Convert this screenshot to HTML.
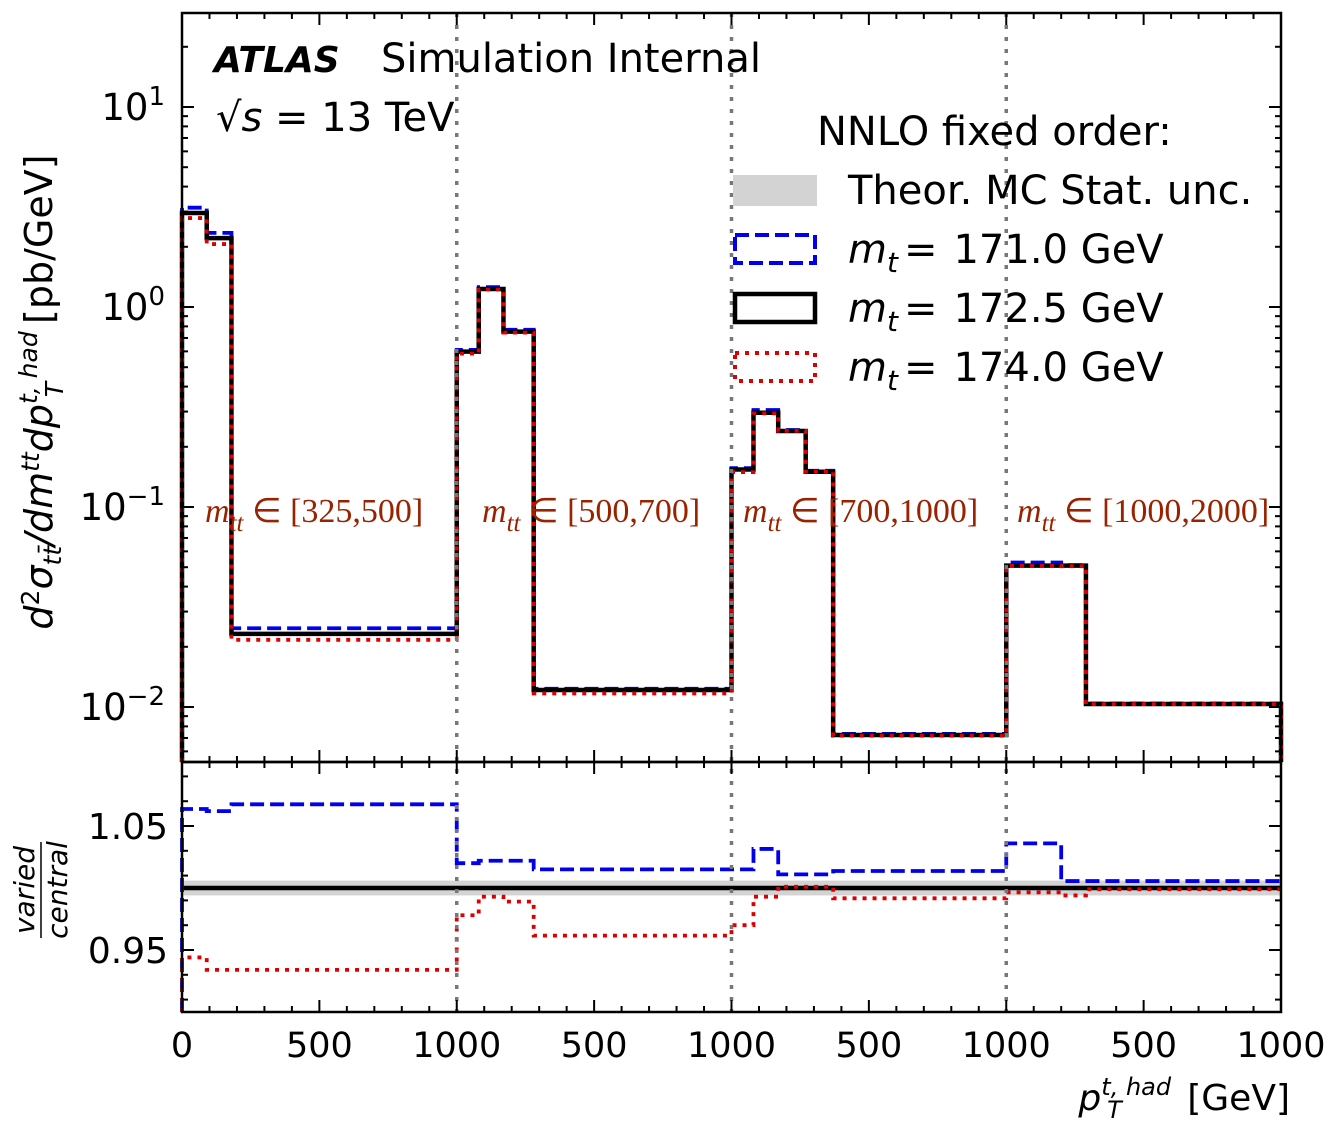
<!DOCTYPE html>
<html><head><meta charset="utf-8">
<style>
html,body{margin:0;padding:0;background:#fff;}
svg{display:block;font-family:"DejaVu Sans","Liberation Sans",sans-serif;}
</style></head>
<body>
<svg id="chart" width="1332" height="1134" viewBox="0 0 1332 1134" xmlns="http://www.w3.org/2000/svg">
<rect width="1332" height="1134" fill="#fff"/>
<g id="ratioBand"></g>
<g id="main"></g>
<g id="ratio"></g>
<g id="axes"></g>

<text x="214" y="72" font-size="36" font-weight="bold" font-style="italic">ATLAS</text>
<text x="381" y="72" font-size="40">Simulation Internal</text>
<text x="216" y="131" font-size="40"><tspan>√</tspan><tspan font-style="italic">s</tspan><tspan> = 13 TeV</tspan></text>

<g>
<text x="817" y="145" font-size="40">NNLO fixed order:</text>
<rect x="733" y="175" width="84" height="31" fill="#d3d3d3"/>
<text x="848" y="204" font-size="40">Theor. MC Stat. unc.</text>
<rect x="735" y="235" width="80" height="28" fill="none" stroke="#0000ee" stroke-width="4" stroke-dasharray="14,6"/>
<text x="848" y="263" font-size="40"><tspan font-style="italic">m</tspan><tspan font-style="italic" font-size="28" dy="9">t</tspan><tspan dy="-9" dx="6">=</tspan><tspan dx="16">171.0 GeV</tspan></text>
<rect x="735" y="294" width="80" height="28" fill="none" stroke="#000" stroke-width="4.5"/>
<text x="848" y="322" font-size="40"><tspan font-style="italic">m</tspan><tspan font-style="italic" font-size="28" dy="9">t</tspan><tspan dy="-9" dx="6">=</tspan><tspan dx="16">172.5 GeV</tspan></text>
<rect x="735" y="353" width="80" height="28" fill="none" stroke="#dd0000" stroke-width="4" stroke-dasharray="4,6"/>
<text x="848" y="381" font-size="40"><tspan font-style="italic">m</tspan><tspan font-style="italic" font-size="28" dy="9">t</tspan><tspan dy="-9" dx="6">=</tspan><tspan dx="16">174.0 GeV</tspan></text>
</g>

<g font-family="'Liberation Serif',serif" fill="#992200" font-size="34">
<text x="205" y="522"><tspan font-style="italic">m</tspan><tspan font-style="italic" font-size="25" dy="9">tt</tspan><tspan dy="-9"> ∈ [325,500]</tspan></text>
<text x="482" y="522"><tspan font-style="italic">m</tspan><tspan font-style="italic" font-size="25" dy="9">tt</tspan><tspan dy="-9"> ∈ [500,700]</tspan></text>
<text x="743" y="522"><tspan font-style="italic">m</tspan><tspan font-style="italic" font-size="25" dy="9">tt</tspan><tspan dy="-9"> ∈ [700,1000]</tspan></text>
<text x="1017" y="522"><tspan font-style="italic">m</tspan><tspan font-style="italic" font-size="25" dy="9">tt</tspan><tspan dy="-9"> ∈ [1000,2000]</tspan></text>
</g>

<text transform="translate(52,392) rotate(-90)" text-anchor="middle" font-size="38"><tspan font-style="italic">d</tspan><tspan font-size="25" dy="-13">2</tspan><tspan font-style="italic" dy="13">σ</tspan><tspan font-style="italic" font-size="25" dy="9">tt̄</tspan><tspan font-style="italic" dy="-9">/dm</tspan><tspan font-style="italic" font-size="25" dy="-13">tt</tspan><tspan font-style="italic" dy="13">dp</tspan><tspan font-style="italic" font-size="25" dy="-15">t, had</tspan><tspan font-style="italic" font-size="25" dx="-66" dy="26">T</tspan><tspan dx="46" dy="-11"> [pb/GeV]</tspan></text>

<g font-size="28" font-style="italic">
<text transform="translate(34,890) rotate(-90)" text-anchor="middle">varied</text>
<line x1="41" y1="842" x2="41" y2="938" stroke="#000" stroke-width="1.5"/>
<text transform="translate(67,890) rotate(-90)" text-anchor="middle">central</text>
</g>

<text x="1290" y="1110" text-anchor="end" font-size="36"><tspan font-style="italic">p</tspan><tspan font-style="italic" font-size="24" dy="-15">t, had</tspan><tspan font-style="italic" font-size="24" dx="-64" dy="23">T</tspan><tspan dx="54" dy="-8"> [GeV]</tspan></text>
</svg>
<script>
const segEdges = [[0,90,180,1000],[0,80,170,280,1000],[0,80,170,270,370,1000],[0,200,290,1000]];
const central = [[2.95,2.21,0.0232],[0.598,1.23,0.753,0.01216],[0.154,0.296,0.24,0.150,0.00724],[0.0509,0.0509,0.01035]];
const ratioBlue = [[1.0637,1.062,1.0675],[1.020,1.022,1.022,1.015],[1.015,1.0315,1.011,1.011,1.0137],[1.036,1.0056,1.0056]];
const ratioRed = [[0.944,0.934,0.934],[0.978,0.993,0.989,0.9616],[0.970,0.993,1.001,1.001,0.9917],[0.9965,0.994,0.999]];
const statUnc = 0.006;
const xTickLabels = ["0","500","1000","500","1000","500","1000","500","1000"];
const yMainTicks = [-2,-1,0,1];
const yRatioLabels = [0.95,1.05];

const NS="http://www.w3.org/2000/svg";
const L=182,R=1281,MT=13,MB=762,RB=1012;
const xs=v=>L+(R-L)*v/4000;
const ym=v=>307-200*Math.log10(v);
const yr=v=>888-1240*(v-1);
function mk(tag,attrs,parent){const e=document.createElementNS(NS,tag);for(const k in attrs)e.setAttribute(k,attrs[k]);parent.appendChild(e);return e;}
const bins=[];
segEdges.forEach((ed,s)=>{for(let i=0;i<ed.length-1;i++)bins.push({lo:s*1000+ed[i],hi:s*1000+ed[i+1],c:central[s][i],b:ratioBlue[s][i],r:ratioRed[s][i]});});
function stepPath(fy,startY){let d=`M${xs(bins[0].lo)},${startY}`;bins.forEach(b=>{d+=` L${xs(b.lo)},${fy(b)} L${xs(b.hi)},${fy(b)}`;});return d;}
const main=document.getElementById('main'),ratio=document.getElementById('ratio'),axes=document.getElementById('axes');
const band=mk('rect',{x:L,y:yr(1+statUnc),width:R-L,height:yr(1-statUnc)-yr(1+statUnc),fill:'#d3d3d3'},document.getElementById('ratioBand'));


[1000,2000,3000].forEach(v=>{const l=mk('line',{x1:xs(v),x2:xs(v),y1:MT,y2:RB,stroke:'#777','stroke-width':3.5,'stroke-dasharray':'4,8'},axes);

});
const styles={b:{stroke:'#0000ee',dash:'14,6',w:3.8},c:{stroke:'#000',dash:'',w:4.5},r:{stroke:'#dd0000',dash:'4,6',w:3.8}};
['b','c','r'].forEach(k=>{
  const f=b=>k==='c'?ym(b.c):ym(b.c*b[k]);
  const p=mk('path',{d:stepPath(f,MB)+` L${xs(4000)},${MB}`,fill:'none',stroke:styles[k].stroke,'stroke-width':styles[k].w,'stroke-dasharray':styles[k].dash},main);
  
  
});
['c','b','r'].forEach(k=>{
  let d; if(k==='c'){d=`M${L},${yr(1)} L${R},${yr(1)}`;} else {d=stepPath(b=>yr(b[k]),RB);}
  const p=mk('path',{d:d,fill:'none',stroke:styles[k].stroke,'stroke-width':styles[k].w,'stroke-dasharray':styles[k].dash},ratio);
  
  
});
const f1=mk('rect',{x:L,y:MT,width:R-L,height:MB-MT,fill:'none',stroke:'#000','stroke-width':2.5},axes);


const f2=mk('rect',{x:L,y:MB,width:R-L,height:RB-MB,fill:'none',stroke:'#000','stroke-width':2.5},axes);


const tk=mk('g',{stroke:'#000','stroke-width':2},axes);


function tick(x1,y1,x2,y2){mk('line',{x1,y1,x2,y2},tk);}
for(let v=0;v<=4000;v+=100){const x=xs(v);const maj=v%500===0;const len=maj?12:6;
  [[MT,1],[MB,-1],[MB,1],[RB,-1]].forEach(([y,d])=>tick(x,y,x,y+d*len));}
xTickLabels.forEach((t,i)=>{const e=mk('text',{x:xs(i*500),y:1057,'text-anchor':'middle','font-size':35},axes);e.textContent=t;

});
const lo=Math.pow(10,(307-MB)/200),hi=Math.pow(10,(307-MT)/200);
for(let e=-3;e<=1;e++)for(let m=1;m<=9;m++){const v=m*Math.pow(10,e);if(v<lo||v>hi)continue;const y=ym(v);const len=m===1?12:6;tick(L,y,L+len,y);tick(R,y,R-len,y);}
yMainTicks.forEach(e=>{const t=mk('text',{x:165,y:ym(Math.pow(10,e))+13,'text-anchor':'end','font-size':37},axes);


const a=document.createElementNS(NS,'tspan');a.textContent='10';t.appendChild(a);
const b=document.createElementNS(NS,'tspan');b.setAttribute('dy','-15');b.setAttribute('font-size','26');b.textContent=(e<0?'\u2212'+(-e):String(e));t.appendChild(b);});
for(let k=0;k<=9;k++){const v=0.91+0.02*k;if(v>1.1)continue;const y=yr(v);tick(L,y,L+6,y);tick(R,y,R-6,y);}
yRatioLabels.forEach(v=>{const y=yr(v);tick(L,y,L+12,y);tick(R,y,R-12,y);
const t=mk('text',{x:168,y:y+13,'text-anchor':'end','font-size':36},axes);t.textContent=v.toFixed(2);

});
</script>
</body></html>
